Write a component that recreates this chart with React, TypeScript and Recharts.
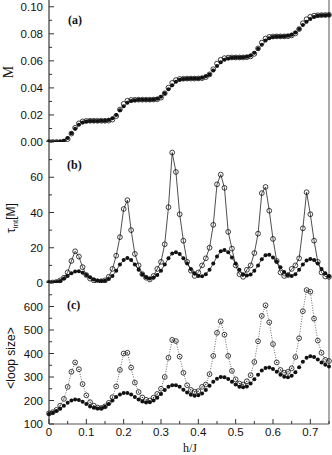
import React from 'react';
import { LineChart, Line, XAxis, YAxis } from 'recharts';

// h/J sampling
const hValues = [
  0, 0.01, 0.02, 0.03, 0.04, 0.05, 0.06, 0.07, 0.08, 0.09,
  0.1, 0.11, 0.12, 0.13, 0.14, 0.15, 0.16, 0.17, 0.18, 0.19,
  0.2, 0.21, 0.22, 0.23, 0.24, 0.25, 0.26, 0.27, 0.28, 0.29,
  0.3, 0.31, 0.32, 0.33, 0.34, 0.35, 0.36, 0.37, 0.38, 0.39,
  0.4, 0.41, 0.42, 0.43, 0.44, 0.45, 0.46, 0.47, 0.48, 0.49,
  0.5, 0.51, 0.52, 0.53, 0.54, 0.55, 0.56, 0.57, 0.58, 0.59,
  0.6, 0.61, 0.62, 0.63, 0.64, 0.65, 0.66, 0.67, 0.68, 0.69,
  0.7, 0.71, 0.72, 0.73, 0.74, 0.75,
];

// (a) magnetisation
const mFilled = [
  0, 0, 0, 0.0002, 0.001, 0.003, 0.0065, 0.0098, 0.0128, 0.0145,
  0.0152, 0.0155, 0.0156, 0.0156, 0.0157, 0.0158, 0.0162, 0.0175, 0.02, 0.0235,
  0.0265, 0.029, 0.0303, 0.0309, 0.0312, 0.0312, 0.0313, 0.0313, 0.0315, 0.032,
  0.0335, 0.036, 0.039, 0.042, 0.0445, 0.046, 0.0466, 0.0468, 0.0469, 0.0469,
  0.047, 0.0475, 0.0486, 0.05, 0.0528, 0.0562, 0.059, 0.0608, 0.0618, 0.0623,
  0.0625, 0.0625, 0.0626, 0.063, 0.064, 0.066, 0.069, 0.072, 0.075, 0.0768,
  0.0777, 0.078, 0.0781, 0.0782, 0.0785, 0.0793, 0.081, 0.0835, 0.0865, 0.089,
  0.091, 0.0925, 0.0933, 0.0937, 0.0938, 0.0939,
];
const mOpen = [
  0, 0, 0, 0, 0.0003, 0.0022, 0.0062, 0.0105, 0.0138, 0.0152,
  0.0156, 0.0157, 0.0157, 0.0157, 0.0157, 0.0157, 0.0158, 0.0166, 0.0192, 0.024,
  0.0282, 0.0305, 0.0311, 0.0312, 0.0313, 0.0313, 0.0313, 0.0313, 0.0314, 0.0316,
  0.0328, 0.036, 0.0402, 0.0437, 0.0458, 0.0466, 0.0468, 0.0469, 0.0469, 0.0469,
  0.047, 0.0472, 0.048, 0.05, 0.0538, 0.058, 0.0608, 0.062, 0.0624, 0.0625,
  0.0625, 0.0625, 0.0625, 0.0627, 0.0633, 0.0652, 0.0692, 0.0735, 0.0765, 0.0777,
  0.078, 0.0781, 0.0781, 0.0781, 0.0782, 0.0788, 0.0803, 0.0835, 0.0878, 0.0908,
  0.0926, 0.0934, 0.0937, 0.0938, 0.0939, 0.094,
];

// (b) integrated autocorrelation time
const tauFilled = [
  0.2, 0.3, 0.6, 1.2, 2.5, 4, 5.5, 6.5, 6.6, 5.8,
  4.5, 3.2, 2, 1.3, 1.1, 1.3, 2.2, 4, 7, 10.5,
  13, 14.2, 13, 10.5, 7.5, 5, 3.2, 2.5, 3, 4.5,
  7, 10.5, 14, 16.8, 17.5, 16.5, 14, 11, 8, 5.5,
  4, 3.8, 5, 7.5, 11, 15, 18, 18.7, 17.5, 14.5,
  11, 7.5, 5, 4.2, 4.8, 7, 10, 13.5, 15.8, 16,
  14.5, 12, 9, 6.2, 4.5, 4, 5, 7.5, 10.5, 12.8,
  13.6, 13, 11, 8, 5.5, 3.8,
];
const tauOpen = [
  0.2, 0.3, 0.6, 1.5, 3, 6, 12.5, 18, 15, 9,
  4.5, 2.5, 1.5, 1, 1, 1.5, 3.5, 8, 15.5, 26,
  42, 47, 30, 16.5, 10, 5, 3, 2, 4, 8,
  12, 22, 43, 74, 63, 39, 24, 12, 7, 4,
  6, 10, 14, 20, 33, 56, 61.5, 54, 29, 19.5,
  10, 5, 3.5, 7.5, 10, 17, 28, 51, 54.5, 41,
  25, 12.5, 6, 4, 4.5, 8, 10, 14, 31, 51.5,
  39, 24, 12, 6, 3.7, 3.5,
];

// (c) mean loop size
const loopFilled = [
  143, 148, 155, 165, 178, 190, 200, 204, 202, 195,
  185, 175, 169, 166, 167, 173, 185, 200, 215, 226,
  232, 232, 226, 215, 204, 196, 192, 193, 200, 212,
  228, 245, 258, 265, 265, 258, 246, 234, 225, 220,
  222, 230, 245, 263, 280, 293, 300, 299, 292, 280,
  268, 259, 256, 260, 272, 290, 310, 328, 338, 340,
  334, 322, 310, 301, 299, 305, 320, 342, 365, 382,
  388, 385, 375, 362, 352, 345,
];
const loopOpen = [
  145, 150, 160, 178, 207, 258, 322, 362, 333, 270,
  222, 193, 178, 170, 168, 175, 190, 214, 260, 330,
  400, 403, 340, 276, 236, 213, 203, 200, 212, 228,
  250, 300, 382, 458, 453, 387, 318, 265, 245, 237,
  240, 258, 268, 312, 390, 488, 537, 480, 390, 326,
  290, 272, 268, 282, 308, 364, 452, 560, 605, 533,
  440, 362, 330, 318, 322, 337, 385, 465, 580, 670,
  663, 548, 455, 403, 373, 368,
];

const hTicks = [0, 0.05, 0.1, 0.15, 0.2, 0.25, 0.3, 0.35, 0.4, 0.45, 0.5, 0.55, 0.6, 0.65, 0.7, 0.75];
const hLabels = [0, 0.1, 0.2, 0.3, 0.4, 0.5, 0.6, 0.7];
const mTicks = [0, 0.01, 0.02, 0.03, 0.04, 0.05, 0.06, 0.07, 0.08, 0.09, 0.1];
const mLabels = [0, 0.02, 0.04, 0.06, 0.08, 0.1];
const tauTicks = [0, 10, 20, 30, 40, 50, 60, 70, 80];
const tauLabels = [0, 20, 40, 60];
const loopTicks = [100, 150, 200, 250, 300, 350, 400, 450, 500, 550, 600, 650, 700];
const loopLabels = [100, 200, 300, 400, 500, 600];

const W = 332;
const LEFT = 49;
const RIGHT = 329;
const SANS = '"Liberation Sans", Arial, sans-serif';
const SERIF = '"Liberation Serif", "Times New Roman", serif';

const near = (list: number[], v: number) => list.some((l) => Math.abs(l - v) < 1e-6);

const makeYTick = (labels: number[], fmt: (v: number) => string, side: 'left' | 'right') => (props: any) => {
  const { y, payload } = props;
  const v = payload.value;
  const major = near(labels, v);
  const len = major ? 5 : 3;
  if (side === 'right') {
    return (
      <g>
        <line x1={RIGHT} x2={RIGHT - len} y1={y} y2={y} stroke="#333" strokeWidth={1} />
      </g>
    );
  }
  return (
    <g>
      <line x1={LEFT} x2={LEFT + len} y1={y} y2={y} stroke="#333" strokeWidth={1} />
      {major && (
        <text x={LEFT - 6} y={y} dy={4} textAnchor="end" fontSize={11.5} fontFamily={SANS} fill="#111">
          {fmt(v)}
        </text>
      )}
    </g>
  );
};

const makeXTick = (lineY: number, dir: number, withLabels: boolean) => (props: any) => {
  const { x, payload } = props;
  const v = payload.value;
  const major = near(hLabels, v);
  const len = major ? 5 : 3;
  return (
    <g>
      <line x1={x} x2={x} y1={lineY} y2={lineY + dir * len} stroke="#333" strokeWidth={1} />
      {withLabels && major && (
        <text x={x} y={lineY + 12} textAnchor="middle" fontSize={11.5} fontFamily={SANS} fill="#111">
          {String(v)}
        </text>
      )}
    </g>
  );
};

const openDot = (r: number, center: boolean) => (p: any) => (
  <g key={`o-${p.index}`}>
    <circle cx={p.cx} cy={p.cy} r={r} fill="none" stroke="#111" strokeWidth={0.8} />
    {center && <circle cx={p.cx} cy={p.cy} r={0.6} fill="#111" />}
  </g>
);
const filledDot = (r: number) => (p: any) => (
  <circle key={`f-${p.index}`} cx={p.cx} cy={p.cy} r={r} fill="#111" stroke="none" />
);

type PanelProps = {
  top: number;
  height: number;
  plotH: number;
  rows: { h: number; open: number; filled: number }[];
  domain: [number, number];
  ticks: number[];
  labels: number[];
  fmt: (v: number) => string;
  bottomLabels: boolean;
  openLine: string;
  openDash?: string;
  filledLine: string;
  filledDash?: string;
  openCenter: boolean;
};

function Panel(p: PanelProps) {
  return (
    <div style={{ position: 'absolute', left: 0, top: p.top }}>
      <LineChart width={W} height={p.height} data={p.rows} margin={{ top: 0, right: 0, bottom: 0, left: 0 }}>
        <XAxis
          xAxisId="b"
          dataKey="h"
          type="number"
          domain={[0, 0.75]}
          ticks={hTicks}
          interval={0}
          tickSize={0}
          height={p.height - p.plotH}
          axisLine={{ stroke: '#555', strokeWidth: 1 }}
          tickLine={false}
          tick={makeXTick(p.plotH, -1, p.bottomLabels)}
        />
        <XAxis
          xAxisId="t"
          dataKey="h"
          type="number"
          orientation="top"
          domain={[0, 0.75]}
          ticks={hTicks}
          interval={0}
          tickSize={0}
          height={0}
          axisLine={{ stroke: '#555', strokeWidth: 1 }}
          tickLine={false}
          tick={makeXTick(0, 1, false)}
        />
        <YAxis
          yAxisId="l"
          type="number"
          domain={p.domain}
          ticks={p.ticks}
          interval={0}
          width={LEFT}
          tickSize={0}
          axisLine={{ stroke: '#888', strokeWidth: 2 }}
          tickLine={false}
          tick={makeYTick(p.labels, p.fmt, 'left')}
          allowDataOverflow
        />
        <YAxis
          yAxisId="r"
          orientation="right"
          type="number"
          domain={p.domain}
          ticks={p.ticks}
          interval={0}
          width={W - RIGHT}
          tickSize={0}
          axisLine={{ stroke: '#555', strokeWidth: 1 }}
          tickLine={false}
          tick={makeYTick(p.labels, p.fmt, 'right')}
        />
        <Line
          xAxisId="b"
          yAxisId="l"
          dataKey="filled"
          stroke={p.filledLine}
          strokeWidth={0.8}
          strokeDasharray={p.filledDash}
          dot={filledDot(2)}
          isAnimationActive={false}
        />
        <Line
          xAxisId="b"
          yAxisId="l"
          dataKey="open"
          stroke={p.openLine}
          strokeWidth={0.8}
          strokeDasharray={p.openDash}
          dot={openDot(2.4, p.openCenter)}
          isAnimationActive={false}
        />
      </LineChart>
    </div>
  );
}

export default function App() {
  const rowsA = hValues.map((h, i) => ({ h, open: mOpen[i], filled: mFilled[i] }));
  const rowsB = hValues.map((h, i) => ({ h, open: tauOpen[i], filled: tauFilled[i] }));
  const rowsC = hValues.map((h, i) => ({ h, open: loopOpen[i], filled: loopFilled[i] }));

  return (
    <div style={{ position: 'absolute', left: 0, top: 0, width: W, height: 455, background: '#fff', overflow: 'hidden' }}>
      <style>{`.recharts-surface { overflow: visible; } .recharts-wrapper { overflow: visible; }`}</style>
      <Panel
        top={0}
        height={142}
        plotH={142}
        rows={rowsA}
        domain={[0, 0.105]}
        ticks={mTicks}
        labels={mLabels}
        fmt={(v) => v.toFixed(2)}
        bottomLabels={false}
        openLine="none"
        filledLine="none"
        openCenter={false}
      />
      <Panel
        top={142}
        height={141}
        plotH={141}
        rows={rowsB}
        domain={[0, 80]}
        ticks={tauTicks}
        labels={tauLabels}
        fmt={(v) => String(v)}
        bottomLabels={false}
        openLine="#222"
        filledLine="#222"
        openCenter={false}
      />
      <Panel
        top={283}
        height={172}
        plotH={141}
        rows={rowsC}
        domain={[100, 700]}
        ticks={loopTicks}
        labels={loopLabels}
        fmt={(v) => String(v)}
        bottomLabels={true}
        openLine="#444"
        openDash="1 1.5"
        filledLine="#444"
        filledDash="1 1.5"
        openCenter={true}
      />
      <svg width={W} height={455} style={{ position: 'absolute', left: 0, top: 0, pointerEvents: 'none' }}>
        <text x={68} y={24} fontSize={12} fontFamily={SERIF} fontWeight="bold" fill="#111">(a)</text>
        <text x={67} y={169} fontSize={12} fontFamily={SERIF} fontWeight="bold" fill="#111">(b)</text>
        <text x={67} y={309} fontSize={12} fontFamily={SERIF} fontWeight="bold" fill="#111">(c)</text>
        <text x={13} y={72} transform="rotate(-90 13 72)" textAnchor="middle" fontSize={14} fontFamily={SERIF} fill="#111">
          M
        </text>
        <text x={15} y={218} transform="rotate(-90 15 218)" textAnchor="middle" fontSize={12} fontFamily={SANS} fill="#111">
          τ<tspan fontSize={8} dy={3}>int</tspan>
          <tspan dy={-3}>[M]</tspan>
        </text>
        <text x={15} y={358} transform="rotate(-90 15 358)" textAnchor="middle" fontSize={12} fontFamily={SANS} fill="#111">
          {'<loop size>'}
        </text>
        <text x={190} y={452} textAnchor="middle" fontSize={12} fontFamily={SERIF} fill="#111">
          h/J
        </text>
      </svg>
    </div>
  );
}
